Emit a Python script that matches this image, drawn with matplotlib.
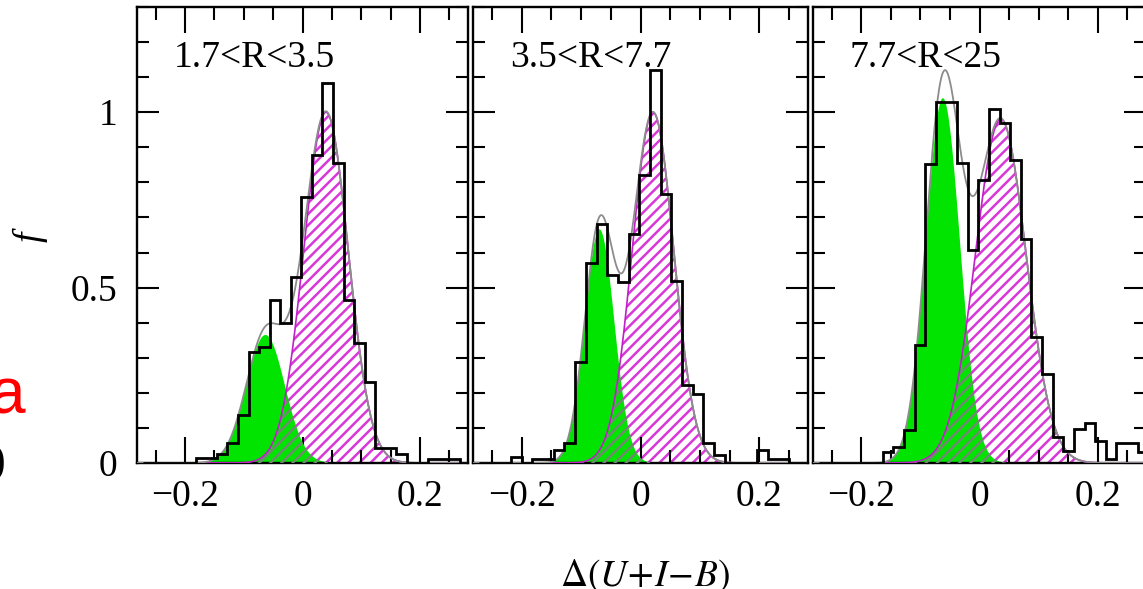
import numpy as np
import matplotlib
matplotlib.use('Agg')
import matplotlib.pyplot as plt
from matplotlib.ticker import MultipleLocator, FixedLocator, FixedFormatter

plt.rcParams['font.family'] = ['Liberation Serif', 'DejaVu Serif']
plt.rcParams['mathtext.fontset'] = 'stix'
plt.rcParams['hatch.linewidth'] = 1.8
plt.rcParams['axes.unicode_minus'] = True

# ---- data ----
bin_edges = [-0.272, -0.254, -0.236, -0.218, -0.200, -0.182, -0.164, -0.146,
             -0.128, -0.110, -0.092, -0.074, -0.056, -0.038, -0.020, -0.002,
             0.016, 0.034, 0.052, 0.070, 0.088, 0.106, 0.124, 0.142, 0.160,
             0.178, 0.196, 0.214, 0.232, 0.250, 0.268, 0.286]

panel_labels = ['1.7<R<3.5', '3.5<R<7.7', '7.7<R<25']

hist_r1 = [0, 0, 0, 0, 0, 0.013, 0.013, 0.025, 0.057, 0.137, 0.317, 0.331,
           0.464, 0.398, 0.531, 0.759, 0.877, 1.082, 0.854, 0.464, 0.341,
           0.232, 0.042, 0.042, 0.025, 0, 0, 0.01, 0.01, 0.01, 0]
hist_r2 = [0, 0, 0, 0.016, 0, 0.01, 0.01, 0.037, 0.057, 0.289, 0.571, 0.681,
           0.536, 0.517, 0.652, 0.821, 1.12, 0.768, 0.520, 0.222, 0.198,
           0.056, 0.023, 0, 0, 0, 0.037, 0.01, 0.01, 0, 0]
hist_r3 = [0, 0, 0, 0, 0, 0, 0.032, 0.046, 0.094, 0.336, 0.852, 1.029,
           1.029, 0.854, 0.607, 0.806, 1.008, 0.968, 0.865, 0.640, 0.360,
           0.255, 0.075, 0.035, 0.096, 0.113, 0.063, 0.012, 0.058, 0.058, 0.032]

# Gaussian fit parameters: (amplitude, mean, sigma)
blue_fit = [(0.365, -0.063, 0.033), (0.666, -0.069, 0.025), (1.04, -0.062, 0.029)]
red_fit = [(1.00, 0.040, 0.038), (1.00, 0.021, 0.035), (0.98, 0.036, 0.043)]

hists = [hist_r1, hist_r2, hist_r3]

GREEN = '#00e400'
MAGENTA = '#d838d8'
MAG_LINE = '#c020c8'
GREY = '#8c8c8c'
OVER = '#708a70'


def gauss(x, p):
    a, m, s = p
    return a * np.exp(-(x - m) ** 2 / (2 * s * s))


W, H = 1143, 589
fig = plt.figure(figsize=(W / 100, H / 100), dpi=100)

ax_px = [(137, 331), (473, 335), (813, 333)]
bottom_px, top_px = 463, 7

xs = np.linspace(-0.3, 0.3, 1500)

for i, (lp, wp) in enumerate(ax_px):
    ax = fig.add_axes([lp / W, 1 - bottom_px / H, wp / W, (bottom_px - top_px) / H])
    g = gauss(xs, blue_fit[i])
    m = gauss(xs, red_fit[i])
    ax.fill_between(xs, 0, m, facecolor='white', edgecolor=MAGENTA,
                    hatch='///', linewidth=0, zorder=1)
    ax.fill_between(xs, 0, g, facecolor=GREEN, edgecolor='none',
                    linewidth=0, zorder=2)
    ax.fill_between(xs, 0, np.minimum(g, m), facecolor='none', edgecolor=OVER,
                    hatch='///', linewidth=0, zorder=3)
    ax.plot(xs, m, color=MAG_LINE, lw=1.2, zorder=4)
    ax.plot(xs, g + m, color=GREY, lw=1.3, zorder=5)
    ax.stairs(hists[i], bin_edges, baseline=None, color='black', lw=2.0, zorder=6)

    ax.set_xlim(-0.282, 0.282)
    ax.set_ylim(0, 1.3)
    ax.xaxis.set_major_locator(FixedLocator([-0.2, 0, 0.2]))
    ax.xaxis.set_major_formatter(FixedFormatter(['\u22120.2', '0', '0.2']))
    ax.xaxis.set_minor_locator(MultipleLocator(0.05))
    ax.yaxis.set_major_locator(FixedLocator([0, 0.5, 1]))
    ax.yaxis.set_minor_locator(MultipleLocator(0.1))
    if i == 0:
        ax.yaxis.set_major_formatter(FixedFormatter(['0', '0.5', '1']))
    else:
        ax.set_yticklabels([])
    ax.tick_params(which='both', direction='in', top=True, right=True,
                   width=1.5, colors='black', labelsize=27)
    ax.tick_params(axis='x', which='major', length=19, pad=12)
    ax.tick_params(axis='x', which='minor', length=9.5)
    ax.tick_params(axis='y', which='major', length=16, pad=14)
    ax.tick_params(axis='y', which='minor', length=8.5)
    for sp in ax.spines.values():
        sp.set_linewidth(1.7)
    ax.text(-0.22, 1.13, panel_labels[i], fontsize=27, ha='left',
            va='baseline', zorder=7)

fig.text(30 / W, 1 - 237 / H, 'f', rotation=90, fontsize=27, style='italic',
         ha='center', va='center')
fig.text(645 / W, 1 - 576 / H, r'$\Delta(U\!+\!I\!-\!B)$', fontsize=27,
         ha='center', va='center')
fig.text(25 / W, 1 - 413 / H, 'a', color='red', fontsize=46,
         family='Liberation Sans', ha='right', va='baseline')
fig.text(6 / W, 1 - 480 / H, 'b', color='black', fontsize=46,
         family='Liberation Sans', ha='right', va='baseline')

fig.savefig('out.png', dpi=100)
